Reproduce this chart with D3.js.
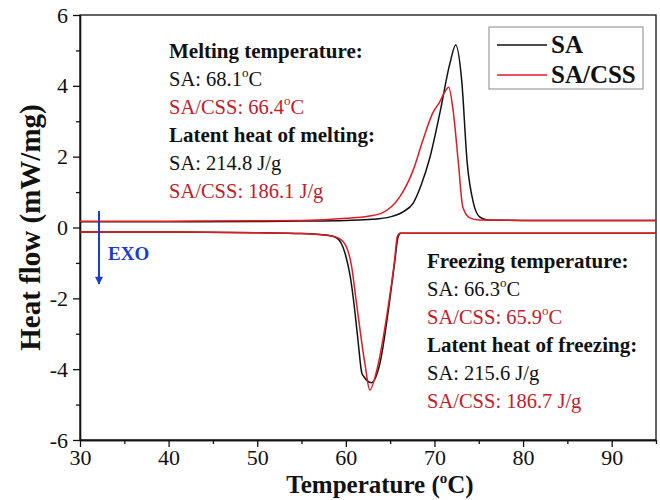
<!DOCTYPE html>
<html>
<head>
<meta charset="utf-8">
<script src="https://cdn.jsdelivr.net/npm/d3@7"></script>
<style>
  body { margin: 0; background: #fff; }
  text { font-family: "Liberation Serif", "Times New Roman", serif; }
</style>
</head>
<body>
<div id="vis"></div>
<script>
// Frame constants
const FRAME_WIDTH = 660;
const FRAME_HEIGHT = 500;
const MARGINS = {left: 80, right: 4, top: 15, bottom: 60};

// Heating curves (melting, upper)
const saMeltT = [30, 40, 50, 55, 60, 63, 65, 66.5, 67.6, 68.5, 69.5, 70.6, 71.75, 72.4, 73.07, 73.7, 74.4, 75.1, 76, 80, 95];
const saMeltV = [0.16, 0.16, 0.17, 0.18, 0.2, 0.23, 0.3, 0.45, 0.69, 1.2, 1.99, 3.22, 4.64, 5.15, 4.16, 1.81, 0.69, 0.3, 0.21, 0.2, 0.2];
const cssMeltT = [30, 40, 50, 55, 60, 62.5, 64, 66.1, 67.6, 68.7, 69.8, 70.6, 71.1, 71.6, 72.1, 72.7, 73.2, 74, 75, 80, 95];
const cssMeltV = [0.18, 0.18, 0.19, 0.2, 0.26, 0.32, 0.4, 0.87, 1.62, 2.47, 3.23, 3.55, 3.8, 3.96, 3.32, 1.82, 0.58, 0.27, 0.21, 0.2, 0.2];

// Cooling curves (freezing, lower)
const saFreezeT = [30, 40, 50, 55, 58, 59, 59.9, 60.5, 61, 61.4, 61.8, 62, 62.9, 63.85, 64.8, 65.5, 65.9, 66.2, 70, 80, 95];
const saFreezeV = [-0.13, -0.13, -0.15, -0.17, -0.22, -0.3, -0.72, -1.39, -2.33, -3.26, -4.11, -4.2, -4.38, -3.83, -2.33, -1.0, -0.26, -0.16, -0.16, -0.16, -0.16];
const cssFreezeT = [30, 40, 50, 55, 58.5, 59.7, 60.65, 61.2, 61.8, 62.2, 62.7, 63.5, 64.6, 65.5, 65.8, 66.1, 70, 80, 95];
const cssFreezeV = [-0.13, -0.13, -0.15, -0.17, -0.25, -0.4, -1.1, -2.13, -3.26, -3.93, -4.59, -4.02, -2.52, -0.92, -0.26, -0.16, -0.16, -0.16, -0.16];

// Ticks
const xMajor = [30, 40, 50, 60, 70, 80, 90];
const xMinor = [35, 45, 55, 65, 75, 85, 95];
const yMajor = [-6, -4, -2, 0, 2, 4, 6];
const yMinor = [-5, -3, -1, 1, 3, 5];

// Annotations
const meltLines = ["Melting temperature:", "SA: 68.1", "SA/CSS: 66.4", "Latent heat of melting:", "SA: 214.8 J/g", "SA/CSS: 186.1 J/g"];
const freezeLines = ["Freezing temperature:", "SA: 66.3", "SA/CSS: 65.9", "Latent heat of freezing:", "SA: 215.6 J/g", "SA/CSS: 186.7 J/g"];
const legendNames = ["SA", "SA/CSS"];

const BLACK = "#111";
const RED = "#e01b24";
const TEXT_RED = "#c0202c";
const BLUE = "#1c3ccc";

const VIS_WIDTH = FRAME_WIDTH - MARGINS.left - MARGINS.right;
const VIS_HEIGHT = FRAME_HEIGHT - MARGINS.top - MARGINS.bottom;

const FRAME = d3.select("#vis")
  .append("svg")
    .attr("width", FRAME_WIDTH)
    .attr("height", FRAME_HEIGHT)
    .attr("font-family", "Liberation Serif");

const X_SCALE = d3.scaleLinear().domain([30, 95]).range([MARGINS.left, MARGINS.left + VIS_WIDTH]);
const Y_SCALE = d3.scaleLinear().domain([-6, 6]).range([MARGINS.top + VIS_HEIGHT, MARGINS.top]);

// frame box
FRAME.append("rect")
  .attr("x", MARGINS.left).attr("y", MARGINS.top)
  .attr("width", VIS_WIDTH).attr("height", VIS_HEIGHT)
  .attr("fill", "none").attr("stroke", "#111").attr("stroke-width", 1.3);

// axes
function styleAxis(g) {
  g.select(".domain").attr("stroke", "#111").attr("stroke-width", 1.3);
  g.selectAll(".tick line").attr("stroke", "#111").attr("stroke-width", 1.3);
  g.selectAll(".tick text")
    .attr("font-family", "Liberation Serif").attr("font-size", 22).attr("fill", "#111");
}
const fmt = d => String(d);

FRAME.append("g")
  .attr("transform", "translate(0," + (MARGINS.top + VIS_HEIGHT) + ")")
  .call(d3.axisBottom(X_SCALE).tickValues(xMinor).tickSize(4).tickSizeOuter(0).tickFormat(""))
  .call(styleAxis);
FRAME.append("g")
  .attr("transform", "translate(0," + (MARGINS.top + VIS_HEIGHT) + ")")
  .call(d3.axisBottom(X_SCALE).tickValues(xMajor).tickSize(7).tickSizeOuter(0).tickPadding(2).tickFormat(fmt))
  .call(styleAxis);

FRAME.append("g")
  .attr("transform", "translate(" + MARGINS.left + ",0)")
  .call(d3.axisLeft(Y_SCALE).tickValues(yMinor).tickSize(4).tickSizeOuter(0).tickFormat(""))
  .call(styleAxis);
FRAME.append("g")
  .attr("transform", "translate(" + MARGINS.left + ",0)")
  .call(d3.axisLeft(Y_SCALE).tickValues(yMajor).tickSize(7).tickSizeOuter(0).tickPadding(5).tickFormat(fmt))
  .call(styleAxis);

// curves
const line = d3.line()
  .x(d => X_SCALE(d[0]))
  .y(d => Y_SCALE(d[1]))
  .curve(d3.curveMonotoneX);

const series = [
  {t: saMeltT, v: saMeltV, c: BLACK},
  {t: saFreezeT, v: saFreezeV, c: BLACK},
  {t: cssMeltT, v: cssMeltV, c: RED},
  {t: cssFreezeT, v: cssFreezeV, c: RED}
];

FRAME.selectAll(".curve")
  .data(series)
  .enter()
  .append("path")
    .attr("class", "curve")
    .attr("d", s => line(d3.zip(s.t, s.v)))
    .attr("fill", "none")
    .attr("stroke", s => s.c)
    .attr("stroke-width", 1.5);

// annotation blocks
function addBlock(lines, x, y0) {
  const g = FRAME.append("g");
  lines.forEach((s, i) => {
    const bold = (i === 0 || i === 3);
    const red = (i === 2 || i === 5);
    const t = g.append("text")
      .attr("x", x).attr("y", y0 + i * 28)
      .attr("font-size", bold ? 21 : 20.5)
      .attr("font-weight", bold ? "bold" : "normal")
      .attr("fill", red ? TEXT_RED : "#111");
    t.append("tspan").text(s);
    if (i === 1 || i === 2) {
      t.append("tspan").attr("font-size", 13).attr("dy", -9).text("o");
      t.append("tspan").attr("dy", 9).text("C");
    }
  });
}
addBlock(meltLines, 169, 58);
addBlock(freezeLines, 427, 268);

// legend
const LEG = FRAME.append("g");
LEG.append("rect")
  .attr("x", 489).attr("y", 27).attr("width", 154).attr("height", 62)
  .attr("fill", "#fff").attr("stroke", "#888").attr("stroke-width", 1);
legendNames.forEach((n, i) => {
  const yy = 45 + i * 30;
  LEG.append("line")
    .attr("x1", 497).attr("x2", 547).attr("y1", yy).attr("y2", yy)
    .attr("stroke", i === 0 ? BLACK : RED).attr("stroke-width", 1.5);
  LEG.append("text")
    .attr("x", 551).attr("y", yy + 8)
    .attr("font-size", 25).attr("font-weight", "bold").attr("fill", "#111")
    .text(n);
});

// EXO arrow
FRAME.append("defs").append("marker")
  .attr("id", "arrow").attr("viewBox", "0 0 10 10")
  .attr("refX", 9).attr("refY", 5)
  .attr("markerWidth", 12).attr("markerHeight", 8)
  .attr("markerUnits", "userSpaceOnUse")
  .attr("orient", "auto")
  .append("path").attr("d", "M0,0L10,5L0,10Z").attr("fill", BLUE);
FRAME.append("line")
  .attr("x1", 99).attr("x2", 99).attr("y1", 211).attr("y2", 284)
  .attr("stroke", BLUE).attr("stroke-width", 2)
  .attr("marker-end", "url(#arrow)");
FRAME.append("text")
  .attr("x", 108).attr("y", 260)
  .attr("font-size", 19).attr("font-weight", "bold").attr("fill", BLUE)
  .text("EXO");

// axis titles
const xt = FRAME.append("text")
  .attr("x", 380).attr("y", 493)
  .attr("text-anchor", "middle")
  .attr("font-size", 25).attr("font-weight", "bold").attr("fill", "#111");
xt.append("tspan").text("Temperature (");
xt.append("tspan").attr("font-size", 15).attr("dy", -10).text("o");
xt.append("tspan").attr("dy", 10).text("C)");

FRAME.append("text")
  .attr("transform", "translate(40," + Y_SCALE(0) + ") rotate(-90)")
  .attr("text-anchor", "middle")
  .attr("font-size", 29).attr("font-weight", "bold").attr("fill", "#111")
  .text("Heat flow (mW/mg)");
</script>
</body>
</html>
